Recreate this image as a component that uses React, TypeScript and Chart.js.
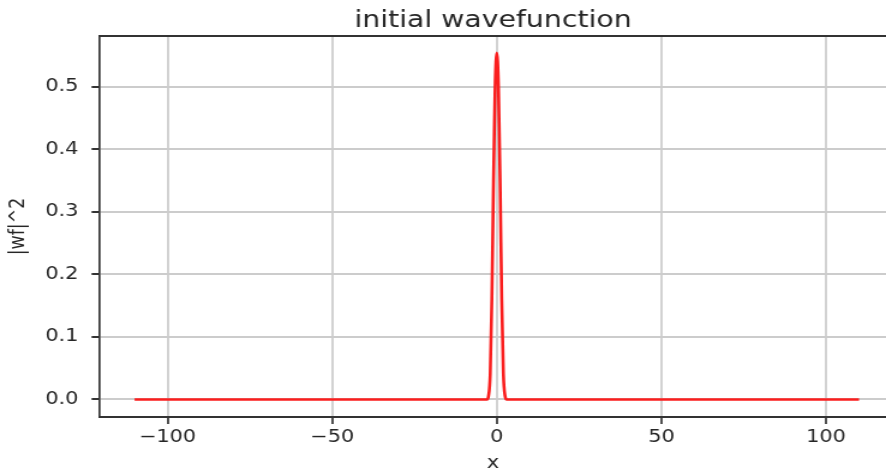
import React, { useEffect, useRef } from "react";
import { Chart, registerables } from "chart.js";

Chart.register(...registerables);

// Data
const xValues: number[] = [
  -110, -60, -20, -5, -3, -2.5, -2, -1.5, -1.25, -1, -0.75, -0.5, -0.25, 0,
  0.25, 0.5, 0.75, 1, 1.25, 1.5, 2, 2.5, 3, 5, 20, 60, 110,
];
const yValues: number[] = [
  0, 0, 0, 0, 0, 0.006, 0.04, 0.16, 0.25, 0.35, 0.43, 0.5, 0.54, 0.554,
  0.54, 0.5, 0.43, 0.35, 0.25, 0.16, 0.04, 0.006, 0, 0, 0, 0, 0,
];
const titleText = "initial wavefunction";
const xTitle = "x";
const yTitle = "|wf|^2";
const xMin = -120.5;
const xMax = 118.2;
const yMin = -0.028;
const yMax = 0.5807;
const xStep = 50;
const yStep = 0.1;

const CSS_W = 886;
const CSS_H = 474;
const STRETCH = 1.2;
const CANVAS_W = Math.round(CSS_W / STRETCH);

const TEXT = "#262626";
const SPINE = "#333333";

const framePlugin = {
  id: "frameTop",
  afterDraw(chart: any) {
    const { ctx, chartArea } = chart;
    ctx.save();
    ctx.strokeStyle = SPINE;
    ctx.lineWidth = 2;
    ctx.beginPath();
    ctx.moveTo(chartArea.left - 1, chartArea.top);
    ctx.lineTo(chartArea.right, chartArea.top);
    ctx.stroke();
    ctx.restore();
  },
};

export default function App() {
  const ref = useRef<HTMLCanvasElement | null>(null);

  useEffect(() => {
    if (!ref.current) return;
    const sx = CSS_W / CANVAS_W;
    const points = xValues.map((x, i) => ({ x, y: yValues[i] }));
    const chart = new Chart(ref.current, {
      type: "line",
      data: {
        datasets: [
          {
            data: points,
            borderColor: "#fa1e1e",
            borderWidth: 2.6,
            pointRadius: 0,
            cubicInterpolationMode: "monotone",
            fill: false,
          },
        ],
      },
      options: {
        animation: false,
        responsive: false,
        devicePixelRatio: 1,
        layout: { padding: 0 },
        plugins: {
          legend: { display: false },
          tooltip: { enabled: false },
          title: {
            display: true,
            fullSize: false,
            text: titleText,
            color: TEXT,
            font: { family: "DejaVu Sans", size: 23.6, weight: "normal" },
            padding: { top: 6.5, bottom: 1.2 },
          },
        },
        scales: {
          x: {
            type: "linear",
            min: xMin,
            max: xMax,
            afterFit: (s: any) => {
              s.height = CSS_H - 417;
            },
            ticks: {
              stepSize: xStep,
              includeBounds: false,
              color: TEXT,
              padding: 3,
              maxRotation: 0,
              font: { family: "DejaVu Sans", size: 17.4 },
              callback: (v: any) => {
                const n = Number(v);
                return n < 0 ? "\u2212" + Math.abs(n) : String(n);
              },
            },
            grid: {
              color: "#d2d2d2",
              lineWidth: 2,
              tickColor: SPINE,
              tickLength: 7,
              tickWidth: 1.7,
            },
            border: { display: true, color: SPINE, width: 2 },
            title: {
              display: true,
              text: xTitle,
              color: TEXT,
              font: { family: "DejaVu Sans", size: 17.4 },
              padding: { top: 0, bottom: 0 },
            },
          },
          y: {
            type: "linear",
            min: yMin,
            max: yMax,
            afterFit: (s: any) => {
              s.width = 100 / sx;
            },
            ticks: {
              stepSize: yStep,
              includeBounds: false,
              color: TEXT,
              padding: 11,
              font: { family: "DejaVu Sans", size: 17.4 },
              callback: (v: any) => Number(v).toFixed(1),
            },
            grid: {
              color: "#cccccc",
              lineWidth: 2,
              tickColor: SPINE,
              tickLength: 7,
              tickWidth: 2,
            },
            border: { display: true, color: SPINE, width: 1.7 },
            title: {
              display: true,
              text: yTitle,
              color: TEXT,
              font: { family: "DejaVu Sans", size: 17.4 },
              padding: { top: 5, bottom: 0 },
            },
          },
        },
      },
      plugins: [framePlugin],
    });
    return () => chart.destroy();
  }, []);

  return (
    <div
      style={{
        position: "fixed",
        left: 0,
        top: 0,
        width: CSS_W + "px",
        height: CSS_H + "px",
        background: "#ffffff",
        overflow: "hidden",
      }}
    >
      <canvas
        ref={ref}
        width={CANVAS_W}
        height={CSS_H}
        style={{ width: CSS_W + "px", height: CSS_H + "px", display: "block" }}
      />
    </div>
  );
}
